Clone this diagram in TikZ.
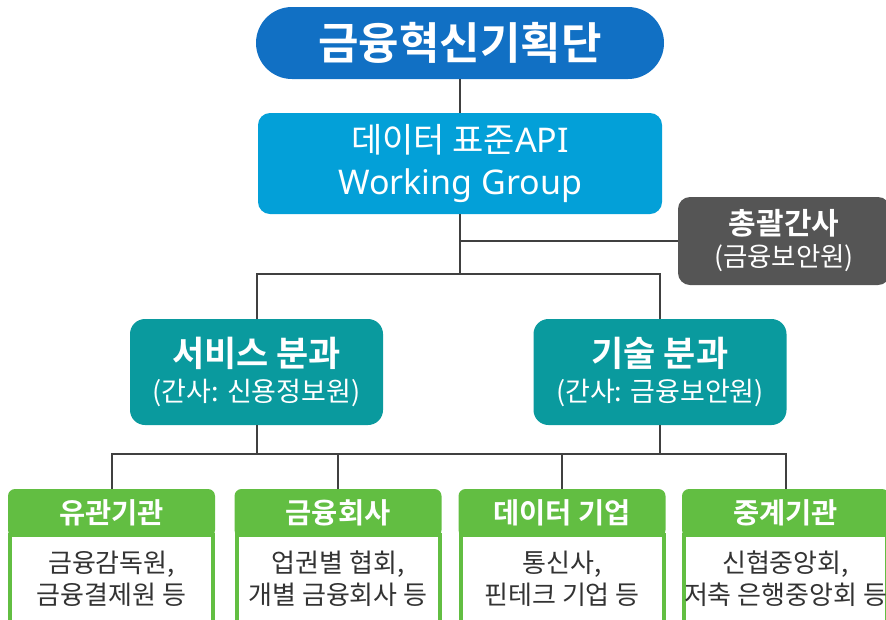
\documentclass[tikz,border=0pt]{standalone}
\usepackage{fontspec}
\setmainfont{Noto Sans CJK KR}[BoldFont={Noto Sans CJK KR Bold}]
\newfontfamily\latin{Noto Sans}
\usetikzlibrary{positioning}
\definecolor{hqblue}{RGB}{17,112,196}
\definecolor{wgblue}{RGB}{3,160,216}
\definecolor{secgray}{RGB}{85,85,85}
\definecolor{unitteal}{RGB}{10,154,158}
\definecolor{grpgreen}{RGB}{98,190,66}
\definecolor{linegray}{RGB}{64,64,64}
\definecolor{bodytext}{RGB}{51,51,51}
\tikzset{
  base/.style = {
    rectangle, rounded corners=12pt, text=white, align=center,
    inner sep=0pt, outer sep=0pt
  },
  hq/.style = {
    base, rounded corners=36pt, fill=hqblue, minimum width=408pt,
    minimum height=72pt, font=\bfseries\fontsize{44}{50}\selectfont
  },
  wg/.style = {
    base, fill=wgblue, minimum width=404pt, minimum height=101pt,
    font=\fontsize{34}{42}\selectfont
  },
  sec/.style = {
    base, fill=secgray, minimum width=212pt, minimum height=88pt,
    font=\fontsize{26.5}{32}\selectfont
  },
  unit/.style = {
    base, rounded corners=15pt, fill=unitteal, minimum width=253pt,
    minimum height=106pt, font=\fontsize{27}{35}\selectfont
  },
  grphead/.style = {
    base, rounded corners=7pt, fill=grpgreen, minimum width=207pt,
    minimum height=48pt, font=\bfseries\fontsize{28.5}{30}\selectfont
  },
  grpbody/.style = {
    rectangle, draw=grpgreen, line width=4pt, fill=white, text=bodytext,
    minimum width=203pt, minimum height=88pt, align=center,
    inner sep=0pt, outer sep=0pt, font=\fontsize{26}{32}\selectfont
  },
  link/.style = {draw=linegray, line width=2pt},
}

\begin{document}
\begin{tikzpicture}[x=1pt, y=-1pt]
  \useasboundingbox (0,0) rectangle (886,619);
  % top
  \node (hq) [hq] at (460,43) {금융혁신기획단};
  \node (wg) [wg] at (460,163.5) {데이터 표준{\latin API}\\{\fontsize{34}{42}\latin Working Group}};
  \node (sec) [sec] at (784,241) {{\bfseries\fontsize{30}{32}\selectfont 총괄간사}\\(금융보안원)};
  % sub-groups
  \node (svc) [unit] at (256.5,372) {{\bfseries\fontsize{35}{35}\selectfont 서비스 분과}\\(간사: 신용정보원)};
  \node (tech) [unit] at (660,372) {{\bfseries\fontsize{35}{35}\selectfont 기술 분과}\\(간사: 금융보안원)};
  % members
  \node (agency) [grphead] at (111.5,513) {유관기관};
  \node (agency_b) [grpbody, below=-2pt of agency] {금융감독원,\\금융결제원 등};
  \node (finco) [grphead] at (338,513) {금융회사};
  \node (finco_b) [grpbody, below=-2pt of finco] {업권별 협회,\\개별 금융회사 등};
  \node (datco) [grphead] at (562,513) {데이터 기업};
  \node (datco_b) [grpbody, below=-2pt of datco] {통신사,\\핀테크 기업 등};
  \node (relay) [grphead] at (785.5,513) {중계기관};
  \node (relay_b) [grpbody, below=-2pt of relay] {신협중앙회,\\저축 은행중앙회 등};
  % connectors
  \coordinate (wgsplit) at (460,274);
  \coordinate (svcsplit) at (256.5,454);
  \draw[link] (hq) -- (wg);
  \draw[link] (wg) |- (sec);
  \draw[link] (wg) -- (wgsplit);
  \draw[link] (svc) |- (wgsplit) -| (tech);
  \draw[link] (svc) -- (svcsplit);
  \draw[link] (agency) |- (relay |- svcsplit) -- (relay);
  \draw[link] (finco) -- (finco |- svcsplit);
  \draw[link] (datco) -- (datco |- svcsplit);
  \draw[link] (tech) -- (tech |- svcsplit);
\end{tikzpicture}
\end{document}
